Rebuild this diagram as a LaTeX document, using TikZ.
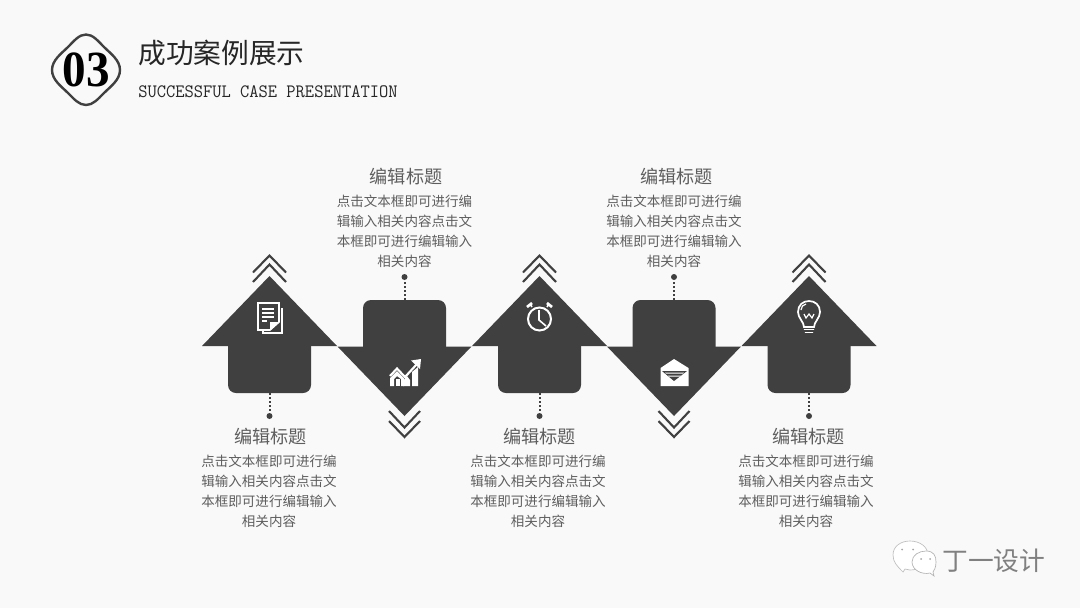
\documentclass[tikz,border=0pt]{standalone}
\usepackage{fontspec}
\setmainfont{Liberation Serif}
\newfontfamily\cjk{Noto Sans CJK SC}
\definecolor{bgc}{HTML}{F9F9F9}
\definecolor{dark}{HTML}{404040}
\definecolor{txt}{HTML}{5E5E5E}
\tikzset{
  x=0.75pt,y=-0.75pt,
  shapefill/.style={fill=dark,draw=none},
  chev/.style={draw=dark,line width=2.1pt*0.75,fill=none,miter limit=10},
  leader/.style={draw=dark,line width=1.5pt,dash pattern=on 1.5pt off 1.5pt},
  leaddot/.style={circle,fill=dark,draw=none,inner sep=0pt,minimum size=4.5pt},
  ttl/.style={font=\cjk\fontsize{13.6pt}{16pt}\selectfont,text=txt,inner sep=0pt},
  body/.style={font=\cjk\fontsize{10.15pt}{15pt}\selectfont,text=txt,align=center,inner sep=0pt},
  ico/.style={draw=white,line width=1.2pt,fill=none},
  icofill/.style={fill=white,draw=none},
}
\begin{document}
\begin{tikzpicture}
\useasboundingbox (0,0) rectangle (1080,608);
\fill[bgc] (0,0) rectangle (1080,608);

% header badge
\draw[draw=dark,line width=1.8pt,line join=round]
  (86,34.5) .. controls (93,34.5) and (98,41) .. (104,47)
  .. controls (110,53) and (120,60) .. (120,70)
  .. controls (120,80) and (110,87) .. (104,93)
  .. controls (98,99) and (93,105) .. (86,105)
  .. controls (79,105) and (74,99) .. (68,93)
  .. controls (62,87) and (52,80) .. (52,70)
  .. controls (52,60) and (62,53) .. (68,47)
  .. controls (74,41) and (79,34.5) .. (86,34.5) -- cycle;
\node[inner sep=0pt,text=black,xscale=0.93] (num) at (86,70) {\fontsize{38pt}{40pt}\selectfont\bfseries 03};
\node[anchor=west,inner sep=0pt,text=black!85] (head) at (138,52.5) {\cjk\fontsize{20.8pt}{24pt}\selectfont 成功案例展示};
\node[anchor=west,inner sep=0pt,text=black!85,xscale=0.95] (sub) at (138,91.5) {\ttfamily\fontsize{14.2pt}{16pt}\selectfont SUCCESSFUL CASE PRESENTATION};

% arrows pointing up
\foreach \c/\n in {269.5/a,539.5/c,809/e}{
  \fill[shapefill] (\c,276) -- (\c+67.5,346) -- (\c-67.5,346) -- cycle;
  \fill[shapefill,rounded corners=6pt] (\c-41.5,335) rectangle (\c+41.5,393);
  \draw[chev] (\c-16.5,272.5) -- (\c,255.5) -- (\c+16.5,272.5);
  \draw[chev] (\c-16.5,282) -- (\c,264.5) -- (\c+16.5,282);
  \coordinate (stem\n) at (\c,393);
  \node[leaddot] (dot\n) at (\c,416) {};
  \draw[leader] (stem\n) -- (dot\n);
}
% arrows pointing down
\foreach \c/\n in {404.5/b,674/d}{
  \fill[shapefill] (\c,416) -- (\c+67,346.5) -- (\c-67,346.5) -- cycle;
  \fill[shapefill,rounded corners=6pt] (\c-41.5,300) rectangle (\c+41.5,357);
  \draw[chev] (\c-15.5,411) -- (\c,427.5) -- (\c+15.5,411);
  \draw[chev] (\c-15.5,421) -- (\c,437) -- (\c+15.5,421);
  \coordinate (stem\n) at (\c,300);
  \node[leaddot] (dot\n) at (\c,277) {};
  \draw[leader] (stem\n) -- (dot\n);
}

% texts
\node[ttl] (t1) at (270.5,437) {编辑标题};
\node[ttl] (t2) at (406,176.5) {编辑标题};
\node[ttl] (t3) at (539.5,437) {编辑标题};
\node[ttl] (t4) at (676.5,176.5) {编辑标题};
\node[ttl] (t5) at (808.5,437) {编辑标题};
\node[body] (b1) at (269,491.5) {点击文本框即可进行编\\辑输入相关内容点击文\\本框即可进行编辑输入\\相关内容};
\node[body] (b2) at (404.5,231.5) {点击文本框即可进行编\\辑输入相关内容点击文\\本框即可进行编辑输入\\相关内容};
\node[body] (b3) at (538,491.5) {点击文本框即可进行编\\辑输入相关内容点击文\\本框即可进行编辑输入\\相关内容};
\node[body] (b4) at (674,231.5) {点击文本框即可进行编\\辑输入相关内容点击文\\本框即可进行编辑输入\\相关内容};
\node[body] (b5) at (806,491.5) {点击文本框即可进行编\\辑输入相关内容点击文\\本框即可进行编辑输入\\相关内容};

% document icon
\draw[ico,line width=0.9pt] (263,308) -- (263,333) -- (282,333) -- (282,308);
\fill[dark] (256.5,301.5) rectangle (280,331);
\draw[ico] (258,303) -- (279,303) -- (279,322) -- (270,330) -- (258,330) -- cycle;
\fill[white] (279,322) -- (270,330) -- (270,322) -- cycle;
\foreach \y/\w in {309/274,313/274,317/274,321/267}{ \draw[white,line width=0.9pt] (262,\y) -- (\w,\y); }

% chart icon
\fill[icofill] (390,386) -- (390,378) -- (397,371) -- (404,378) -- (404,386) -- (401,386) -- (401,379) -- (397,376) -- (394,379) -- (394,386) -- cycle;
\fill[icofill] (395.5,386) -- (395.5,378.5) -- (399.5,378.5) -- (399.5,386) -- cycle;
\fill[icofill] (403,386) -- (403,381) -- (407,376) -- (410,380) -- (410,386) -- cycle;
\fill[icofill] (412,386) -- (412,372) -- (418,367) -- (418,386) -- cycle;
\draw[white,line width=1.6pt] (390,376) -- (397,368.5) -- (405,377) -- (417,364);
\fill[icofill] (411,360.5) -- (421,359) -- (420,369) -- cycle;

% clock icon
\draw[ico,line width=1.5pt] (539.5,319) circle (11.5);
\draw[white,line width=1.2pt] (539,310) -- (539,320) -- (546,326);
\draw[white,line width=2pt] (527,307) -- (532,303);
\draw[white,line width=2pt] (552,307) -- (547,303);
\draw[white,line width=1.2pt] (530,304) -- (532,307);
\draw[white,line width=1.2pt] (549,304) -- (547,307);

% mail icon
\fill[icofill] (660.5,368) -- (674,359) -- (688.5,368) -- (688.5,386) -- (660.5,386) -- cycle;
\fill[dark] (662,371) -- (687,371) -- (674,381) -- cycle;
\fill[white] (665,372.7) -- (684,372.7) -- (683,373.7) -- (666,373.7) -- cycle;
\fill[white] (668,375.5) -- (681,375.5) -- (680,376.5) -- (669,376.5) -- cycle;

% bulb icon
\draw[ico,line width=1.3pt] (804,327) .. controls (804,322) and (798,318) .. (798,312)
  .. controls (798,305) and (803,301) .. (809,301)
  .. controls (815,301) and (820,305) .. (820,312)
  .. controls (820,318) and (814,322) .. (814,327) -- cycle;
\draw[white,line width=0.9pt] (804,314) -- (806,318) -- (809,314) -- (812,318) -- (814,314);
\draw[white,line width=0.9pt] (801,310) .. controls (801,307) and (803,304.5) .. (806,304);
\draw[white,line width=1.3pt,line cap=round] (804.5,329.5) -- (813.5,329.5);
\draw[white,line width=1.3pt,line cap=round] (805.5,332.5) -- (812.5,332.5);

% watermark
\draw[draw=black!25,fill=white,line width=0.5pt] (903,572) .. controls (897,566) and (893,562) .. (893,555)
  .. controls (893,546) and (901,541) .. (910,541) .. controls (920,541) and (928,547) .. (928,555)
  .. controls (928,564) and (920,570) .. (910,570) -- (905,569) -- cycle;
\draw[draw=black!30,fill=white,line width=0.5pt] (934,576) -- (930,573) .. controls (922,575) and (912,570) .. (912,562)
  .. controls (912,555) and (919,551) .. (926,551) .. controls (934,551) and (936,556) .. (936,562)
  .. controls (936,568) and (934,570) .. (933,572) -- cycle;
\foreach \p in {(902,549.5),(913,549.5),(921,559),(930,559)}{ \fill[black!35] \p circle (1); }
\node[anchor=west,inner sep=0pt,text=black!50] (mark) at (942,561) {\cjk\fontsize{19.3pt}{22pt}\selectfont 丁一设计};
\end{tikzpicture}
\end{document}
